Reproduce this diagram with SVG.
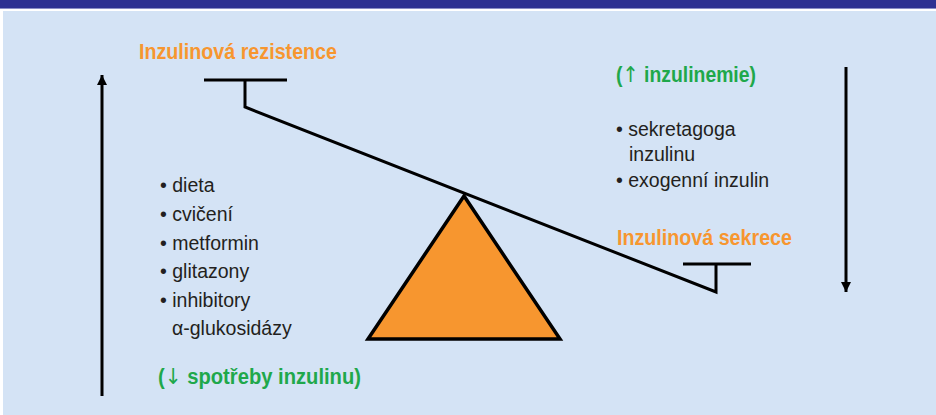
<svg xmlns="http://www.w3.org/2000/svg" width="936" height="415" viewBox="0 0 936 415">
<defs>
<style>
.lbl{font-family:"Liberation Sans",Arial,sans-serif;font-weight:bold;font-size:22px}
.org{fill:#f7962f}
.grn{fill:#1fa84b}
.item{font-family:"Liberation Sans",Arial,sans-serif;font-size:19.5px;fill:#231f20}
.thin{font-family:"DejaVu Sans",sans-serif;font-weight:normal;font-size:22px}
.ln{stroke:#000;stroke-width:3;fill:none}
</style>
<marker id="ah" viewBox="0 0 10 10" refX="10" refY="5" markerWidth="10" markerHeight="10" markerUnits="userSpaceOnUse" orient="auto">
<path d="M0,0 L10,5 L0,10 Z" fill="#000"/>
</marker>
</defs>
<rect x="0" y="0" width="936" height="415" fill="#ffffff"/>
<rect x="0" y="0" width="936" height="8" fill="#2e3192"/>
<rect x="0" y="8" width="936" height="1" fill="#8a8dc6"/>
<rect x="3" y="11" width="933" height="404" fill="#d4e3f5"/>

<g id="connectors">
<line class="ln" x1="102" y1="396" x2="102" y2="75" marker-end="url(#ah)"/>
<line class="ln" x1="846" y1="67" x2="846" y2="292" marker-end="url(#ah)"/>
</g>

<g id="fulcrum">
<polygon points="464,196 368,339 560,339" fill="#f7962f" stroke="#000" stroke-width="3.5" stroke-linejoin="miter"/>
</g>

<g id="beam">
<line class="ln" x1="204" y1="80" x2="287" y2="80"/>
<polyline class="ln" points="245,80 245,107 716,292 716,264"/>
<line class="ln" x1="683" y1="264" x2="751" y2="264"/>
</g>

<g id="resistance">
<text class="lbl org" x="139" y="59" textLength="198" lengthAdjust="spacingAndGlyphs">Inzulinová rezistence</text>
</g>

<g id="secretion">
<text class="lbl org" x="617" y="245" textLength="175" lengthAdjust="spacingAndGlyphs">Inzulinová sekrece</text>
</g>

<g id="insulinemia">
<text class="lbl grn" x="616" y="82" textLength="140" lengthAdjust="spacingAndGlyphs">(<tspan class="thin">↑</tspan> inzulinemie)</text>
</g>

<g id="right-list">
<text class="item" x="616" y="136">• sekretagoga</text>
<text class="item" x="629" y="161">inzulinu</text>
<text class="item" x="616" y="187">• exogenní inzulin</text>
</g>

<g id="left-list">
<text class="item" x="160" y="192">• dieta</text>
<text class="item" x="160" y="221">• cvičení</text>
<text class="item" x="160" y="250">• metformin</text>
<text class="item" x="160" y="278">• glitazony</text>
<text class="item" x="160" y="307">• inhibitory</text>
<text class="item" x="172" y="335">α-glukosidázy</text>
</g>

<g id="consumption">
<text class="lbl grn" x="158" y="384" textLength="203" lengthAdjust="spacingAndGlyphs">(<tspan class="thin">↓</tspan> spotřeby inzulinu)</text>
</g>
</svg>
